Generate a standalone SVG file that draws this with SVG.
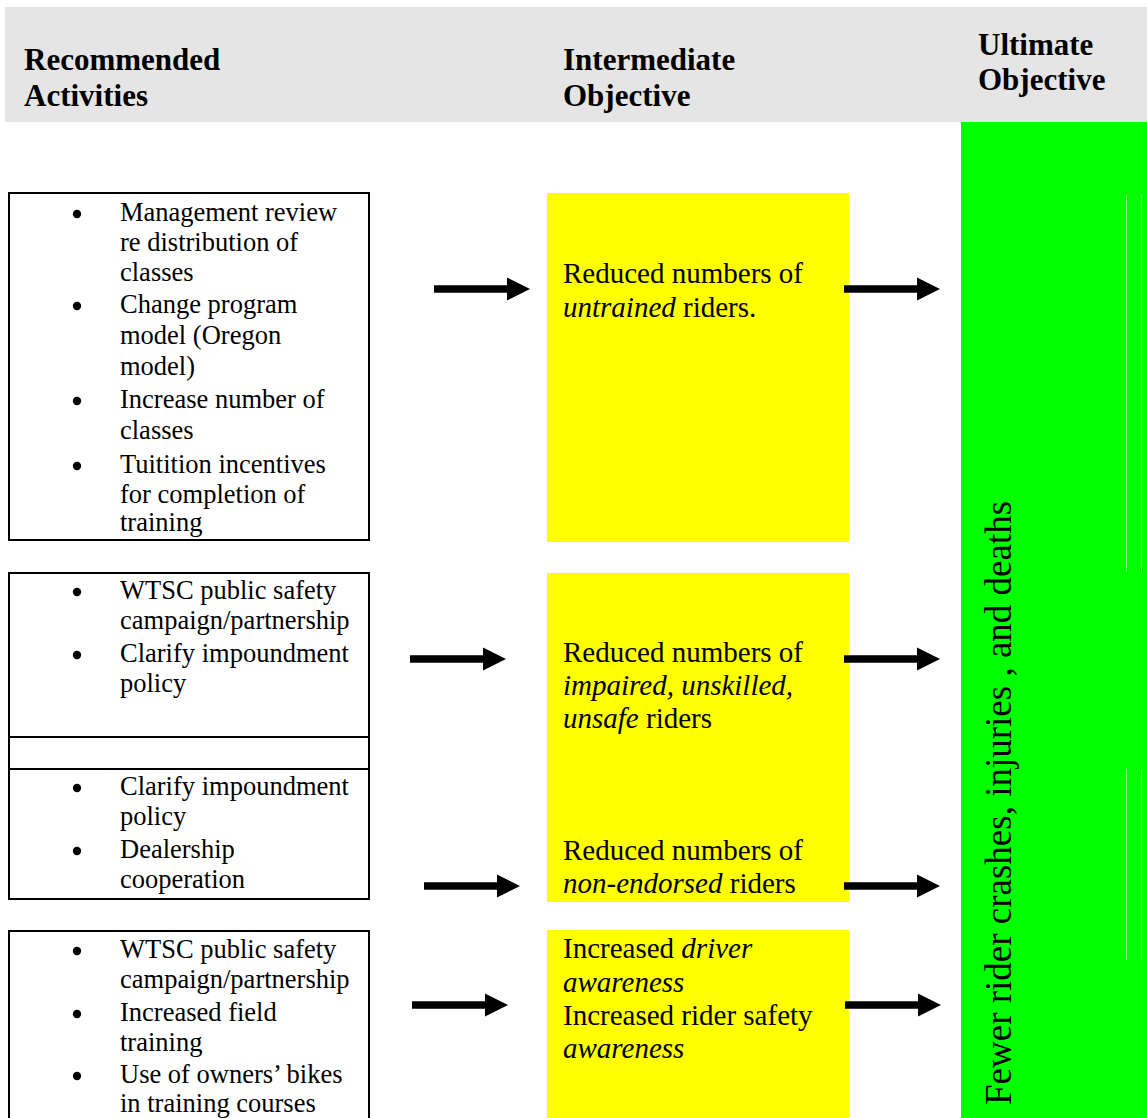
<svg xmlns="http://www.w3.org/2000/svg" xmlns:xlink="http://www.w3.org/1999/xlink" width="1147" height="1118" viewBox="0 0 1147 1118">
<style>
  text { font-family: "Liberation Serif", "Times New Roman", serif; fill: #000; }
  .hdr { font-size: 31px; font-weight: bold; }
  .act { font-size: 26.5px; }
  .obj { font-size: 29px; }
  .ult { font-size: 37px; }
  .box { fill: #fff; stroke: #000; stroke-width: 2; }
  .yel { fill: #ffff00; }
  .bul { fill: #000; }
  .it { font-style: italic; }
</style>
<defs>
  <polygon id="arrow" points="0,-3.7 73,-3.7 73,-11.5 96,0 73,11.5 73,3.7 0,3.7" fill="#000"/>
</defs>
<rect x="0" y="0" width="1147" height="1118" fill="#fff"/>

<g id="header">
  <rect x="5" y="7" width="1142" height="115" fill="#e5e5e5"/>
  <text class="hdr" x="24" y="70">Recommended</text>
  <text class="hdr" x="24" y="106">Activities</text>
  <text class="hdr" x="563" y="70">Intermediate</text>
  <text class="hdr" x="563" y="106">Objective</text>
  <text class="hdr" x="978" y="55">Ultimate</text>
  <text class="hdr" x="978" y="90">Objective</text>
</g>

<g id="ultimate">
  <rect x="961" y="122" width="186" height="996" fill="#00ff00"/>
  <line x1="1126.5" y1="195" x2="1126.5" y2="572" stroke="#b8ffb8" stroke-width="0.7"/>
  <line x1="1141.5" y1="195" x2="1141.5" y2="572" stroke="#b8ffb8" stroke-width="0.7"/>
  <line x1="1126.5" y1="769" x2="1126.5" y2="960" stroke="#b8ffb8" stroke-width="0.7"/>
  <line x1="1141.5" y1="769" x2="1141.5" y2="960" stroke="#b8ffb8" stroke-width="0.7"/>
  <text class="ult" transform="translate(1011,1105) rotate(-90)" x="0" y="0">Fewer rider crashes, injuries , and deaths</text>
</g>

<g id="activities-1">
  <rect class="box" x="9" y="193" width="360" height="347"/>
  <circle class="bul" cx="77" cy="214" r="4.2"/>
  <circle class="bul" cx="77" cy="306" r="4.2"/>
  <circle class="bul" cx="77" cy="401" r="4.2"/>
  <circle class="bul" cx="77" cy="466" r="4.2"/>
  <text class="act" x="120" y="221">Management review</text>
  <text class="act" x="120" y="251">re distribution of</text>
  <text class="act" x="120" y="281">classes</text>
  <text class="act" x="120" y="313">Change program</text>
  <text class="act" x="120" y="344">model (Oregon</text>
  <text class="act" x="120" y="375">model)</text>
  <text class="act" x="120" y="408">Increase number of</text>
  <text class="act" x="120" y="439">classes</text>
  <text class="act" x="120" y="473">Tuitition incentives</text>
  <text class="act" x="120" y="503">for completion of</text>
  <text class="act" x="120" y="531">training</text>
</g>

<g id="activities-2">
  <rect class="box" x="9" y="573" width="360" height="164"/>
  <circle class="bul" cx="77" cy="592" r="4.2"/>
  <circle class="bul" cx="77" cy="655" r="4.2"/>
  <text class="act" x="120" y="599">WTSC public safety</text>
  <text class="act" x="120" y="629">campaign/partnership</text>
  <text class="act" x="120" y="662">Clarify impoundment</text>
  <text class="act" x="120" y="692">policy</text>
</g>

<g id="activities-spacer">
  <rect class="box" x="9" y="737" width="360" height="32"/>
</g>

<g id="activities-3">
  <rect class="box" x="9" y="769" width="360" height="130"/>
  <circle class="bul" cx="77" cy="788" r="4.2"/>
  <circle class="bul" cx="77" cy="851" r="4.2"/>
  <text class="act" x="120" y="795">Clarify impoundment</text>
  <text class="act" x="120" y="825">policy</text>
  <text class="act" x="120" y="858">Dealership</text>
  <text class="act" x="120" y="888">cooperation</text>
</g>

<g id="activities-4">
  <rect class="box" x="9" y="931" width="360" height="200"/>
  <circle class="bul" cx="77" cy="951" r="4.2"/>
  <circle class="bul" cx="77" cy="1014" r="4.2"/>
  <circle class="bul" cx="77" cy="1076" r="4.2"/>
  <text class="act" x="120" y="958">WTSC public safety</text>
  <text class="act" x="120" y="988">campaign/partnership</text>
  <text class="act" x="120" y="1021">Increased field</text>
  <text class="act" x="120" y="1051">training</text>
  <text class="act" x="120" y="1083">Use of owners’ bikes</text>
  <text class="act" x="120" y="1112">in training courses</text>
</g>

<g id="objective-1">
  <rect class="yel" x="547" y="193" width="302" height="349"/>
  <text class="obj" x="563" y="283">Reduced numbers of</text>
  <text class="obj" x="563" y="317"><tspan class="it">untrained</tspan> riders.</text>
</g>

<g id="objective-2">
  <rect class="yel" x="547" y="573" width="302" height="190"/>
  <text class="obj" x="563" y="662">Reduced numbers of</text>
  <text class="obj" x="563" y="695"><tspan class="it">impaired, unskilled,</tspan></text>
  <text class="obj" x="563" y="728"><tspan class="it">unsafe</tspan> riders</text>
</g>

<g id="objective-3">
  <rect class="yel" x="547" y="763" width="302" height="139"/>
  <text class="obj" x="563" y="860">Reduced numbers of</text>
  <text class="obj" x="563" y="893"><tspan class="it">non-endorsed</tspan> riders</text>
</g>

<g id="objective-4">
  <rect class="yel" x="547" y="930" width="302" height="188"/>
  <text class="obj" x="563" y="958">Increased <tspan class="it">driver</tspan></text>
  <text class="obj" x="563" y="992"><tspan class="it">awareness</tspan></text>
  <text class="obj" x="563" y="1025">Increased rider safety</text>
  <text class="obj" x="563" y="1058"><tspan class="it">awareness</tspan></text>
</g>

<g id="connectors">
  <use xlink:href="#arrow" href="#arrow" x="434" y="289"/>
  <use xlink:href="#arrow" href="#arrow" x="844" y="289"/>
  <use xlink:href="#arrow" href="#arrow" x="410" y="659"/>
  <use xlink:href="#arrow" href="#arrow" x="844" y="659"/>
  <use xlink:href="#arrow" href="#arrow" x="424" y="886"/>
  <use xlink:href="#arrow" href="#arrow" x="844" y="886"/>
  <use xlink:href="#arrow" href="#arrow" x="412" y="1005"/>
  <use xlink:href="#arrow" href="#arrow" x="845" y="1005"/>
</g>
</svg>
